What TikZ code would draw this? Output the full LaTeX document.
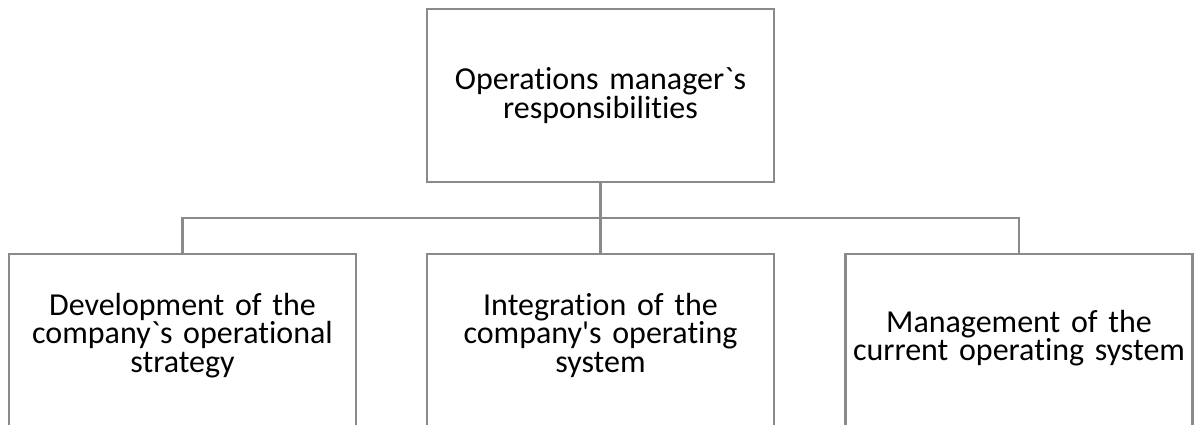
\documentclass[tikz,border=0pt]{standalone}
\usepackage{fontspec}
\setmainfont[Ligatures=NoCommon]{Carlito}
\definecolor{boxgray}{RGB}{138,138,138}
\tikzset{
  box/.style={draw=boxgray,line width=2.6pt,minimum width=346pt,minimum height=173pt,
    text width=340pt,align=center,font=\fontsize{32}{28.5}\selectfont,text height=20pt},
  lower/.style={box,minimum height=182pt},
  link/.style={draw=boxgray,line width=2.6pt}
}
\begin{document}
\begin{tikzpicture}[x=1pt,y=-1pt]
\useasboundingbox (0,0) rectangle (1200,425);
\clip (0,0) rectangle (1200,425);

\node[box,text depth=31pt] (top) at (600.5,95.5) {Operations manager\textasciigrave s\\responsibilities};

% lower row runs past the bottom edge
\node[lower,text depth=80pt] (dev) at (182.5,345) {Development of the\\company\textasciigrave s operational\\strategy};
\node[lower,text depth=80pt] (integ) at (600.5,345) {Integration of the\\company\textquotesingle s operating\\system};
\node[lower,text depth=46pt] (mgmt) at (1019,345) {Management of the\\current operating system};

\coordinate (bar) at (600.5,218);
\draw[link] (top.south) -- (integ.north);
\draw[link] (dev.north) |- (bar) -| (mgmt.north);
\end{tikzpicture}
\end{document}
